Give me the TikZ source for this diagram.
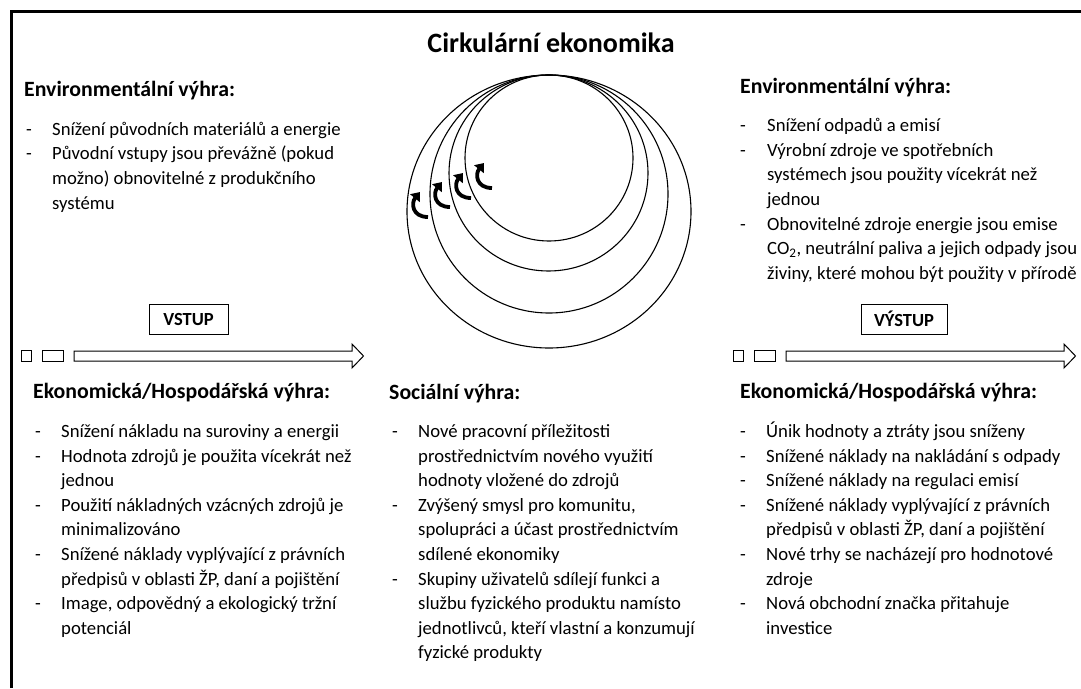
\documentclass[tikz,border=0pt]{standalone}
\usepackage{fontspec}
\setmainfont{Carlito}
\usetikzlibrary{arrows.meta}

\tikzset{
  heading/.style={anchor=base west, inner sep=0pt, font=\fontsize{21.8}{26}\selectfont\bfseries},
  bullets/.style={anchor=north west, inner sep=0pt, font=\fontsize{18.7}{24.6}\selectfont},
  tagbox/.style={draw, line width=1pt, minimum height=30pt, inner sep=0pt, font=\fontsize{18.5}{20}\selectfont\bfseries},
  ring/.style={line width=1.1pt},
  turn/.style={line width=3.8pt, -{Triangle[length=8pt,width=12pt]}},
  flow/.style={line width=1pt},
}
\newcommand{\dashlist}[2]{\begin{tabular}{@{}p{#1}@{}l@{}}#2\end{tabular}}

\begin{document}
\begin{tikzpicture}[x=1pt,y=-1pt]
  \useasboundingbox (0,0) rectangle (1081,688);
  % frame (top and left only)
  \draw[line width=2.5pt] (11.3,688) -- (11.3,11.3) -- (1081,11.3);

  \node[anchor=base, inner sep=0pt, font=\fontsize{28}{32}\selectfont\bfseries] (title) at (551,52) {Cirkulární ekonomika};

  % nested rings
  \draw[ring] (549,211.5) ellipse [x radius=142, y radius=136.5];
  \draw[ring] (549,194) ellipse [x radius=119, y radius=119];
  \draw[ring] (548.5,173) ellipse [x radius=99.5, y radius=98];
  \draw[ring] (549,158) ellipse [x radius=84, y radius=83];
  \foreach \tx/\ty in {428/217, 450/207, 471/198, 492/188}
    \draw[turn] (\tx,\ty) .. controls ({\tx-16},\ty) and ({\tx-17},{\ty-14}) .. ({\tx-8},{\ty-25});

  % top left
  \node[heading] (envin) at (24,96.7) {Environmentální výhra:};
  \node[bullets] (envinlist) at (26,117.8) {\dashlist{26pt}{
    - & Snížení původních materiálů a energie\\
    - & Původní vstupy jsou převážně (pokud\\
      & možno) obnovitelné z produkčního\\
      & systému}};

  % top right
  \node[heading] (envout) at (740,93.3) {Environmentální výhra:};
  \node[bullets] (envoutlist) at (740,114.3) {\dashlist{27pt}{
    - & Snížení odpadů a emisí\\
    - & Výrobní zdroje ve spotřebních\\
      & systémech jsou použity vícekrát než\\
      & jednou\\
    - & Obnovitelné zdroje energie jsou emise\\
      & CO\textsubscript{2}, neutrální paliva a jejich odpady jsou\\
      & živiny, které mohou být použity v přírodě}};

  % input / output tags
  \node[tagbox, minimum width=79pt] (vstup) at (188.5,319) {VSTUP};
  \node[tagbox, minimum width=86pt] (vystup) at (904,319) {VÝSTUP};

  % block arrows
  \foreach \dx in {0,712} {
    \begin{scope}[xshift=\dx pt]
      \draw[flow] (21,350.5) rectangle (31,361);
      \draw[flow] (42,350.5) rectangle (63,361);
      \draw[flow] (74,351) -- (352,351) -- (352,344) -- (363.5,356) -- (352,368)
        -- (352,361) -- (74,361) -- cycle;
    \end{scope}
  }

  % bottom left
  \node[heading] (ecoin) at (33,398.3) {Ekonomická/Hospodářská výhra:};
  \node[bullets] (ecoinlist) at (35,420) {\dashlist{26pt}{
    - & Snížení nákladu na suroviny a energii\\
    - & Hodnota zdrojů je použita vícekrát než\\
      & jednou\\
    - & Použití nákladných vzácných zdrojů je\\
      & minimalizováno\\
    - & Snížené náklady vyplývající z právních\\
      & předpisů v oblasti ŽP, daní a pojištění\\
    - & Image, odpovědný a ekologický tržní\\
      & potenciál}};

  % bottom middle
  \node[heading] (social) at (389,399) {Sociální výhra:};
  \node[bullets] (sociallist) at (392,420) {\dashlist{26pt}{
    - & Nové pracovní příležitosti\\
      & prostřednictvím nového využití\\
      & hodnoty vložené do zdrojů\\
    - & Zvýšený smysl pro komunitu,\\
      & spolupráci a účast prostřednictvím\\
      & sdílené ekonomiky\\
    - & Skupiny uživatelů sdílejí funkci a\\
      & službu fyzického produktu namísto\\
      & jednotlivců, kteří vlastní a konzumují\\
      & fyzické produkty}};

  % bottom right
  \node[heading] (ecoout) at (740,398) {Ekonomická/Hospodářská výhra:};
  \node[bullets] (ecooutlist) at (740,420) {\dashlist{26pt}{
    - & Únik hodnoty a ztráty jsou sníženy\\
    - & Snížené náklady na nakládání s odpady\\
    - & Snížené náklady na regulaci emisí\\
    - & Snížené náklady vyplývající z právních\\
      & předpisů v oblasti ŽP, daní a pojištění\\
    - & Nové trhy se nacházejí pro hodnotové\\
      & zdroje\\
    - & Nová obchodní značka přitahuje\\
      & investice}};
\end{tikzpicture}
\end{document}
